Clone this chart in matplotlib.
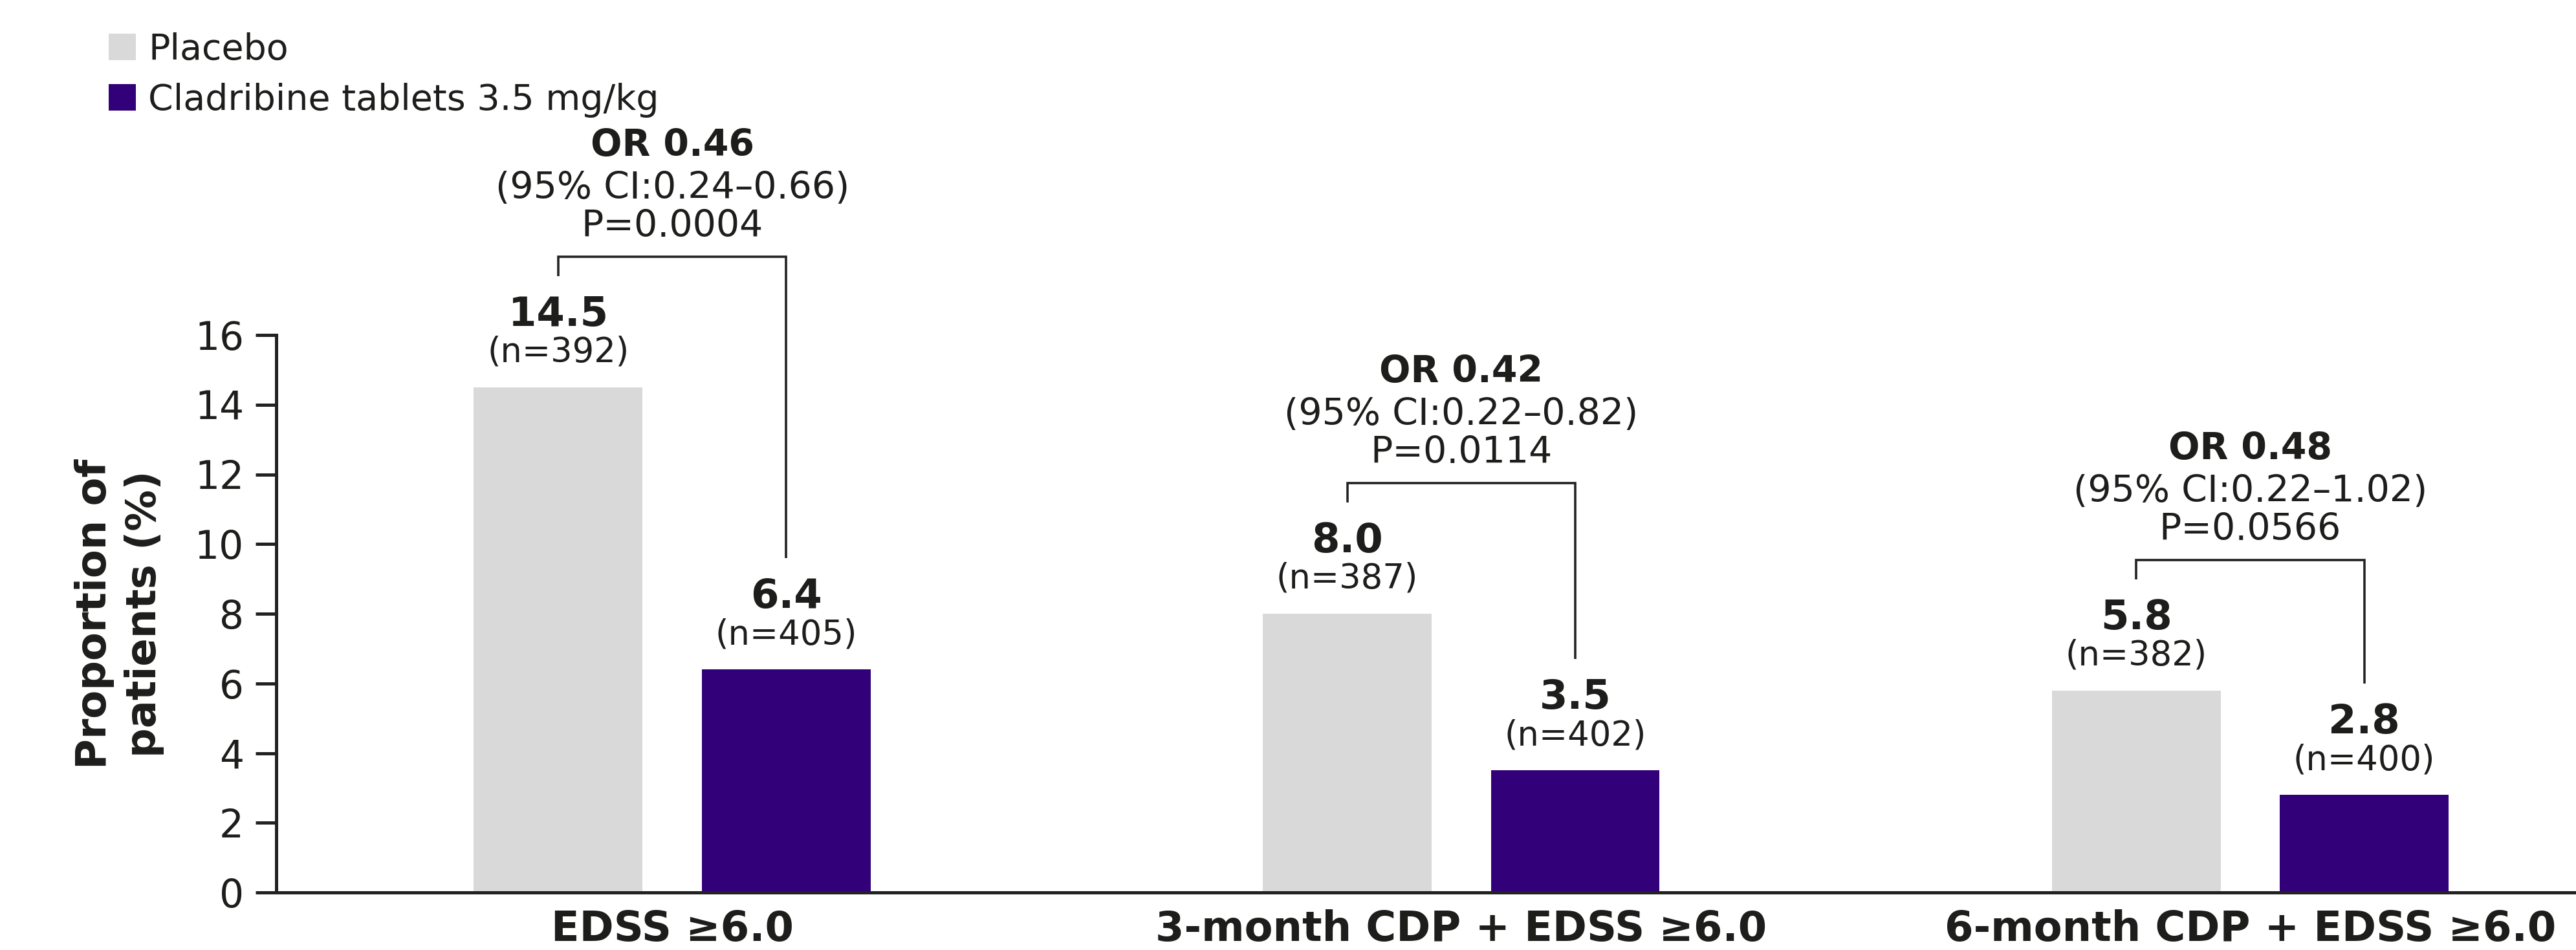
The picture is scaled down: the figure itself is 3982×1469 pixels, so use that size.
import matplotlib
matplotlib.use("Agg")
import matplotlib.pyplot as plt
import numpy as np

# ---------------- data ----------------
categories = ["EDSS \u22656.0", "3-month CDP + EDSS \u22656.0", "6-month CDP + EDSS \u22656.0"]
series_names = ["Placebo", "Cladribine tablets 3.5 mg/kg"]
placebo = [14.5, 8.0, 5.8]
cladribine = [6.4, 3.5, 2.8]
placebo_n = [392, 387, 382]
cladribine_n = [405, 402, 400]
odds_ratio = [0.46, 0.42, 0.48]
ci_low = [0.24, 0.22, 0.22]
ci_high = [0.66, 0.82, 1.02]
p_values = ["0.0004", "0.0114", "0.0566"]
y_ticks = [0, 2, 4, 6, 8, 10, 12, 14, 16]
y_label = "Proportion of\npatients (%)"

# ---------------- style ----------------
W, H = 3982, 1469
DPI = 100
TXT = "#1d1d1b"
PLACEBO_C = "#d9d9d9"
CLAD_C = "#320078"
plt.rcParams["font.family"] = ["DejaVu Sans"]
plt.rcParams["text.color"] = TXT

fig = plt.figure(figsize=(W / DPI, H / DPI), dpi=DPI)
ax = fig.add_axes([427 / W, 1 - 1380 / H, 1 - 427 / W, (1380 - 518) / H])

x = np.arange(len(categories))
off = 0.1445
bw = 0.214
b1 = ax.bar(x - off, placebo, bw, color=PLACEBO_C, label=series_names[0], zorder=1)
b2 = ax.bar(x + off, cladribine, bw, color=CLAD_C, label=series_names[1], zorder=1)

ax.set_xlim(-0.502, 2.413)
ax.set_ylim(0, 16)
ax.set_yticks(y_ticks)
ax.set_yticklabels([str(t) for t in y_ticks], fontsize=43, color=TXT)
ax.set_xticks(x)
ax.set_xticklabels(categories, fontsize=46, fontweight="bold", color=TXT)
ax.tick_params(axis="y", length=23, width=3.6, pad=13, color="#222222")
ax.tick_params(axis="x", length=0, pad=19)
for s in ["top", "right"]:
    ax.spines[s].set_visible(False)
for s in ["left", "bottom"]:
    ax.spines[s].set_linewidth(3.6)
    ax.spines[s].set_color("#222222")
ax.set_ylabel(y_label, fontsize=46, fontweight="bold", labelpad=34,
              linespacing=1.3, color=TXT)

# value labels
for xs, vals, ns in [(x - off, placebo, placebo_n), (x + off, cladribine, cladribine_n)]:
    for xi, v, n in zip(xs, vals, ns):
        ax.annotate(f"{v:.1f}", xy=(xi, v), xytext=(0, 95), textcoords="offset pixels",
                    ha="center", va="baseline", fontsize=45, fontweight="bold",
                    color=TXT, annotation_clip=False)
        ax.annotate(f"(n={n})", xy=(xi, v), xytext=(0, 39), textcoords="offset pixels",
                    ha="center", va="baseline", fontsize=38, color=TXT,
                    annotation_clip=False)

# brackets and statistics
px_per_unit = (1380 - 518) / 16.0
leg_gap = 172 / px_per_unit
top_gap = 30 / px_per_unit
for i in range(len(categories)):
    xl, xr = x[i] - off, x[i] + off
    yl = placebo[i] + leg_gap
    yr = cladribine[i] + leg_gap
    top = max(yl, yr) + top_gap
    ax.plot([xl, xl, xr, xr], [yl, top, top, yr], color="#222222", lw=2.6,
            clip_on=False, solid_joinstyle="miter", solid_capstyle="butt")
    ax.annotate(f"P={p_values[i]}", xy=(x[i], top), xytext=(0, 31),
                textcoords="offset pixels", ha="center", va="baseline",
                fontsize=41, color=TXT, annotation_clip=False)
    ax.annotate(f"(95% CI:{ci_low[i]:.2f}\u2013{ci_high[i]:.2f})", xy=(x[i], top),
                xytext=(0, 90), textcoords="offset pixels", ha="center",
                va="baseline", fontsize=41, color=TXT, annotation_clip=False)
    ax.annotate(f"OR {odds_ratio[i]:.2f}", xy=(x[i], top), xytext=(0, 156),
                textcoords="offset pixels", ha="center", va="baseline",
                fontsize=41, fontweight="bold", color=TXT, annotation_clip=False)

# legend
leg = fig.legend(handles=[b1, b2], labels=series_names, loc="upper left",
                 bbox_to_anchor=(168 / W, 1 - 50 / H), frameon=False,
                 fontsize=40, handlelength=0.75, handleheight=0.75,
                 handletextpad=0.35, labelspacing=0.43, borderpad=0,
                 borderaxespad=0)
for t in leg.get_texts():
    t.set_color(TXT)

fig.savefig("out.png", dpi=DPI)
